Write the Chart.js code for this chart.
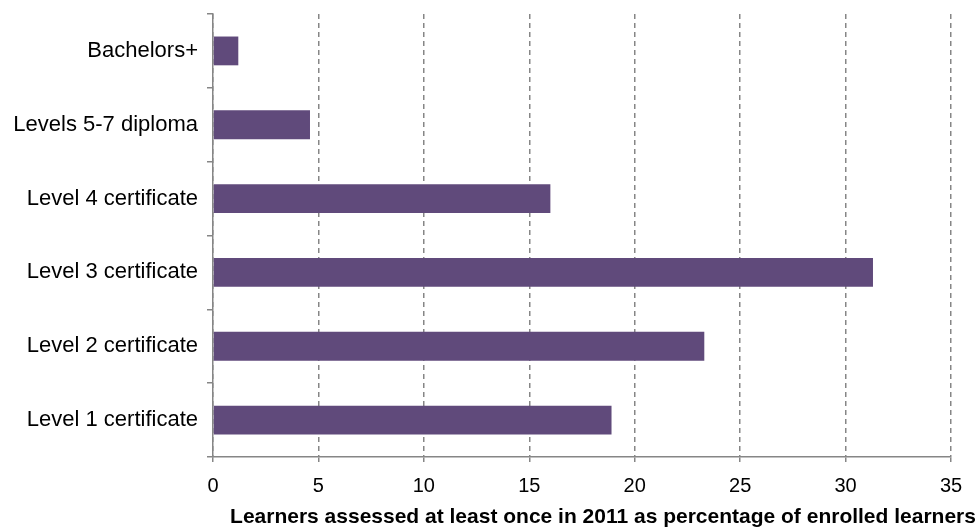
<!DOCTYPE html>
<html>
<head>
<meta charset="utf-8">
<title>Learners assessed</title>
<script src="https://cdn.jsdelivr.net/npm/chart.js@4"></script>
<style>
  html, body { margin: 0; padding: 0; background: #fff; }
  #wrap { width: 980px; height: 527px; }
</style>
</head>
<body>
<div id="wrap"><canvas id="myChart"></canvas></div>
<script>
// qualification levels, top to bottom
const labels = ['Bachelors+', 'Levels 5-7 diploma', 'Level 4 certificate', 'Level 3 certificate', 'Level 2 certificate', 'Level 1 certificate'];
// % of enrolled learners assessed at least once in 2011
const values = [1.2, 4.6, 16.0, 31.3, 23.3, 18.9];
const xTitle = 'Learners assessed at least once in 2011 as percentage of enrolled learners';
const xMin = 0;
const xMax = 35;
const xStep = 5;

const fontFamily = '"Liberation Sans", Arial, sans-serif';
const axisGrey = '#868686';

// bold axis title under the tick labels
const axisTitle = {
  id: 'axisTitle',
  afterDraw(chart) {
    const ctx = chart.ctx;
    const area = chart.chartArea;
    ctx.save();
    ctx.font = 'bold 21px ' + fontFamily;
    ctx.fillStyle = '#000';
    ctx.textAlign = 'center';
    ctx.textBaseline = 'alphabetic';
    ctx.fillText(xTitle, (area.left + area.right) / 2 + 21, chart.height - 4);
    ctx.restore();
  }
};

const ctx = document.getElementById('myChart').getContext('2d');
const myChart = new Chart(ctx, {
  type: 'bar',
  data: {
    labels: labels,
    datasets: [{
      data: values,
      backgroundColor: '#604A7B',
      borderWidth: 0,
      barPercentage: 0.39,
      categoryPercentage: 1
    }]
  },
  plugins: [axisTitle],
  options: {
    indexAxis: 'y',
    responsive: true,
    maintainAspectRatio: false,
    animation: false,
    layout: { padding: { top: 14, left: 12, right: 29, bottom: 0 } },
    plugins: {
      legend: { display: false },
      tooltip: { enabled: false }
    },
    scales: {
      x: {
        min: xMin,
        max: xMax,
        ticks: {
          stepSize: xStep,
          color: '#000',
          padding: 12,
          font: { family: fontFamily, size: 20 }
        },
        grid: {
          color: axisGrey,
          lineWidth: 1.5,
          tickLength: 5,
          tickBorderDash: []
        },
        border: { color: axisGrey, width: 1.5, dash: [5, 4] },
        afterFit(scale) { scale.height = 70; }
      },
      y: {
        ticks: {
          color: '#000',
          padding: 9,
          font: { family: fontFamily, size: 22 }
        },
        grid: {
          offset: true,
          drawOnChartArea: false,
          color: axisGrey,
          lineWidth: 1.5,
          tickLength: 6
        },
        border: { color: axisGrey, width: 1.5 },
        afterFit(scale) {
          scale.width = 201;
          // labels sit inside their bands, no extra room needed above
          scale.paddingTop = 0;
          scale.paddingBottom = 0;
        }
      }
    }
  }
});
</script>
</body>
</html>
